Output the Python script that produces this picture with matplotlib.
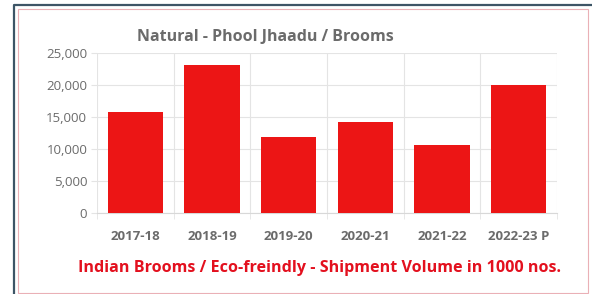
import matplotlib
matplotlib.use("Agg")
import matplotlib.pyplot as plt
from matplotlib.lines import Line2D
from matplotlib.patches import Rectangle
from matplotlib.ticker import FuncFormatter

years = ["2017-18", "2018-19", "2019-20", "2020-21", "2021-22", "2022-23 P"]
volumes = [15800, 23100, 11900, 14200, 10600, 20000]
y_ticks = [0, 5000, 10000, 15000, 20000, 25000]

plt.rcParams["font.family"] = ["Open Sans", "DejaVu Sans"]

fig = plt.figure(figsize=(5.92, 2.94), dpi=100)
fig.patch.set_facecolor("white")

# frame around the picture: dark top/left edge, thin pink inner box
fig.lines.append(Line2D([14 / 592, 14 / 592, 1], [0, 1 - 5 / 294, 1 - 5 / 294],
                        transform=fig.transFigure, color="#3d5566", lw=1.6))
fig.patches.append(Rectangle((18 / 592, 1 / 294), 570 / 592, 1 - 10 / 294,
                             transform=fig.transFigure, fill=False,
                             edgecolor="#eab0b6", lw=0.8))

ax = fig.add_axes([97 / 592, 1 - 213 / 294, 460 / 592, 160 / 294])
x = range(len(years))
ax.bar(x, volumes, width=0.72, color="#ec1515", zorder=3)

ax.set_xlim(-0.5, len(years) - 0.5)
ax.set_ylim(0, 25000)
ax.set_yticks(y_ticks)
ax.yaxis.set_major_formatter(FuncFormatter(lambda v, p: f"{v:,.0f}"))

# vertical grid at band boundaries
ax.set_xticks([i - 0.5 for i in range(len(years) + 1)], minor=True)
ax.set_xticks(list(x))
ax.set_xticklabels(years)
ax.grid(axis="y", color="#e4e4e4", lw=0.8, zorder=0)
ax.grid(axis="x", which="minor", color="#e4e4e4", lw=0.8, zorder=0)
ax.tick_params(axis="x", which="major", length=0, pad=12,
               labelsize=9.5, labelcolor="#6b6b6b")
ax.tick_params(axis="x", which="minor", length=4, color="#e4e4e4")
ax.tick_params(axis="y", length=4, color="#e4e4e4", labelsize=9.5,
               labelcolor="#6b6b6b", pad=3)
for lbl in ax.get_xticklabels():
    lbl.set_fontweight("bold")
for s in ax.spines.values():
    s.set_visible(False)
ax.spines["bottom"].set_visible(True)
ax.spines["bottom"].set_color("#d8d8d8")

fig.text(265 / 592, 1 - 37 / 294, "Natural - Phool Jhaadu / Brooms",
         ha="center", va="center", fontsize=11.5, fontweight="bold",
         color="#6b6b6b")
fig.text(319 / 592, 1 - 268 / 294,
         "Indian Brooms / Eco-freindly - Shipment Volume in 1000 nos.",
         ha="center", va="center", fontsize=11.6, fontweight="bold",
         color="#e3101e")

fig.savefig("out.png", dpi=100)
